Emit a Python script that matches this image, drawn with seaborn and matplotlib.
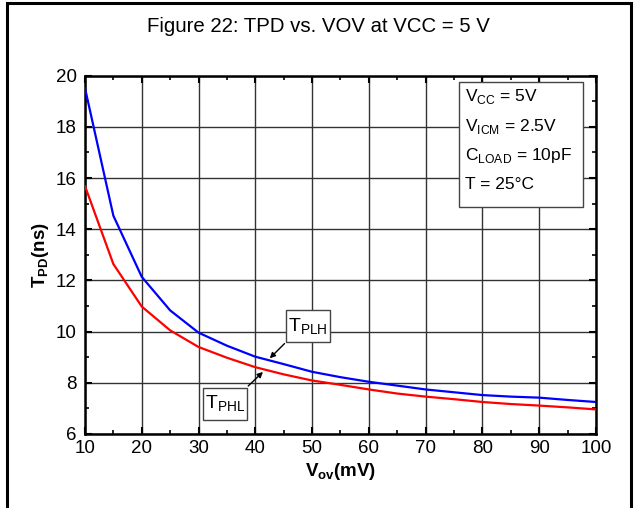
import matplotlib
matplotlib.use("Agg")
import matplotlib.pyplot as plt
import seaborn as sns
import pandas as pd
from matplotlib.patches import Rectangle
from matplotlib.ticker import MultipleLocator

vov = [10, 15, 20, 25, 30, 35, 40, 45, 50, 55, 60, 65, 70, 75, 80, 85, 90, 95, 100]
tplh = [19.52, 14.53, 12.14, 10.83, 9.96, 9.45, 9.02, 8.73, 8.43, 8.22, 8.04, 7.89, 7.74, 7.63, 7.52, 7.46, 7.42, 7.33, 7.25]
tphl = [15.69, 12.64, 10.98, 10.05, 9.40, 8.98, 8.61, 8.33, 8.09, 7.92, 7.74, 7.58, 7.46, 7.36, 7.25, 7.17, 7.11, 7.04, 6.96]
series_names = ["TPLH", "TPHL"]
series_colors = {"TPLH": "#0000ff", "TPHL": "#ff0000"}
title_text = "Figure 22: TPD vs. VOV at VCC = 5 V"
xticks = [10, 20, 30, 40, 50, 60, 70, 80, 90, 100]
yticks = [6, 8, 10, 12, 14, 16, 18, 20]

df = pd.DataFrame({
    "vov": vov * 2,
    "tpd": tplh + tphl,
    "series": ["TPLH"] * len(vov) + ["TPHL"] * len(vov),
})

sns.set_style("white")
plt.rcParams["font.family"] = ["Liberation Sans", "DejaVu Sans"]
plt.rcParams["mathtext.fontset"] = "custom"
plt.rcParams["mathtext.rm"] = "Liberation Sans"
plt.rcParams["mathtext.bf"] = "Liberation Sans:bold"
plt.rcParams["text.color"] = "black"
plt.rcParams["axes.labelcolor"] = "black"
plt.rcParams["xtick.color"] = "black"
plt.rcParams["ytick.color"] = "black"

fig = plt.figure(figsize=(6.36, 5.08), dpi=100)
ax = fig.add_axes([0.1336, 0.1457, 0.8034, 0.7053])

sns.lineplot(data=df, x="vov", y="tpd", hue="series", palette=series_colors,
             hue_order=series_names, linewidth=1.6, ax=ax, legend=False, zorder=5)

ax.set_xlim(10, 100)
ax.set_ylim(6, 20)
ax.set_xticks(xticks)
ax.set_yticks(yticks)
ax.xaxis.set_minor_locator(MultipleLocator(5))
ax.yaxis.set_minor_locator(MultipleLocator(1))
ax.grid(True, which="major", color="#333333", linewidth=1.0)
ax.tick_params(which="major", direction="in", length=5, width=1.5, labelsize=13.5,
               colors="black", top=True, right=True, bottom=True, left=True)
ax.tick_params(axis="x", which="major", pad=4)
ax.tick_params(axis="y", which="major", pad=6)
ax.tick_params(which="minor", direction="in", length=3, width=1.2, top=True, right=True,
               bottom=True, left=True)
for s in ax.spines.values():
    s.set_linewidth(1.8)
    s.set_color("black")
    s.set_visible(True)

ax.set_xlabel(r"$\mathbf{V_{ov}}$(mV)", fontsize=13.5, fontweight="bold", labelpad=3)
ax.set_ylabel(r"$\mathbf{T_{PD}}$(ns)", fontsize=13.5, fontweight="bold", labelpad=3)

# condition box
ax.add_patch(Rectangle((75.87, 14.87), 21.83, 4.88, facecolor="white", edgecolor="#444444",
                       linewidth=1.0, zorder=6))
cond = [r"V$_{\mathregular{CC}}$ = 5V", r"V$_{\mathregular{ICM}}$ = 2.5V",
        r"C$_{\mathregular{LOAD}}$ = 10pF", "T = 25°C"]
cond_y = [19.17, 18.0, 16.9, 15.73]
for t, yy in zip(cond, cond_y):
    ax.text(76.9, yy, t, fontsize=12.5, ha="left", va="center", zorder=7)

# curve labels
ax.add_patch(Rectangle((45.4, 9.59), 7.75, 1.25, facecolor="white", edgecolor="#444444",
                       linewidth=1.0, zorder=6))
ax.text(49.27, 10.2, r"T$_{\mathregular{PLH}}$", fontsize=14, ha="center", va="center", zorder=7)
ax.add_patch(Rectangle((30.8, 6.55), 7.7, 1.25, facecolor="white", edgecolor="#444444",
                       linewidth=1.0, zorder=6))
ax.text(34.65, 7.16, r"T$_{\mathregular{PHL}}$", fontsize=14, ha="center", va="center", zorder=7)
ax.annotate("", xy=(42.2, 8.88), xytext=(45.5, 9.61),
            arrowprops=dict(arrowstyle="-|>", color="black", lw=1.0, mutation_scale=8), zorder=8)
ax.annotate("", xy=(41.7, 8.5), xytext=(38.4, 7.8),
            arrowprops=dict(arrowstyle="-|>", color="black", lw=1.0, mutation_scale=8), zorder=8)

fig.text(0.5, 0.947, title_text, fontsize=14.7, ha="center", va="center")

# outer frame
fig.add_artist(Rectangle((0.011, -0.02), 0.981, 1.014, transform=fig.transFigure,
                         facecolor="none", edgecolor="black", linewidth=2.2))

fig.savefig("out.png", dpi=100)
